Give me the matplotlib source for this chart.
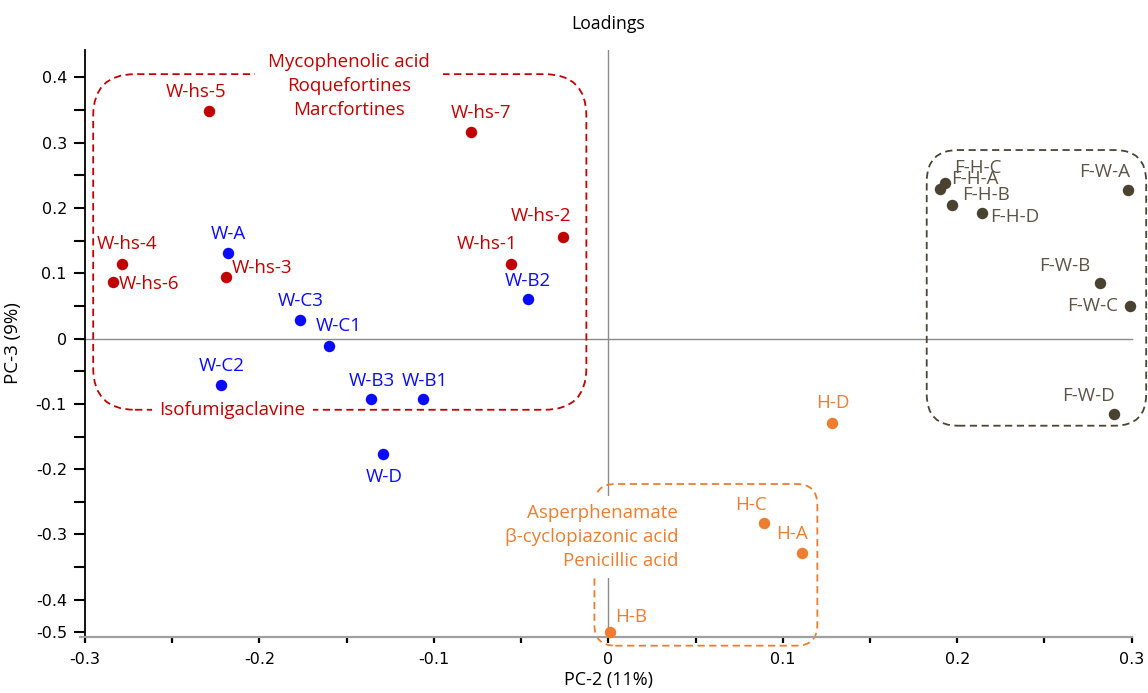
import matplotlib.pyplot as plt
from matplotlib.patches import FancyBboxPatch

# PC-2 / PC-3 loadings
red_names = ["W-hs-5", "W-hs-7", "W-hs-2", "W-hs-1", "W-hs-4", "W-hs-6", "W-hs-3"]
red_x = [-0.229, -0.079, -0.026, -0.056, -0.279, -0.284, -0.219]
red_y = [0.349, 0.316, 0.156, 0.114, 0.114, 0.087, 0.094]

blue_names = ["W-A", "W-C3", "W-C1", "W-C2", "W-B3", "W-B1", "W-B2", "W-D"]
blue_x = [-0.218, -0.177, -0.160, -0.222, -0.136, -0.106, -0.046, -0.129]
blue_y = [0.131, 0.029, -0.011, -0.071, -0.093, -0.093, 0.061, -0.177]

food_names = ["F-H-C", "F-H-A", "F-H-B", "F-H-D", "F-W-A", "F-W-B", "F-W-C", "F-W-D"]
food_x = [0.193, 0.190, 0.197, 0.214, 0.298, 0.282, 0.299, 0.290]
food_y = [0.239, 0.229, 0.205, 0.193, 0.228, 0.085, 0.050, -0.116]

orange_names = ["H-D", "H-C", "H-A", "H-B"]
orange_x = [0.128, 0.089, 0.111, 0.001]
orange_y = [-0.129, -0.283, -0.328, -0.450]

red_compounds = "Mycophenolic acid\nRoquefortines\nMarcfortines"
red_compound_low = "Isofumigaclavine"
orange_compounds = "Asperphenamate\nβ-cyclopiazonic acid\nPenicillic acid"

x_ticks = [-0.3, -0.2, -0.1, 0, 0.1, 0.2, 0.3]
x_labels = ["-0.3", "-0.2", "-0.1", "0", "0.1", "0.2", "0.3"]
y_ticks = [0.4, 0.3, 0.2, 0.1, 0, -0.1, -0.2, -0.3, -0.4, -0.45]
y_labels = ["0.4", "0.3", "0.2", "0.1", "0", "-0.1", "-0.2", "-0.3", "-0.4", "-0.5"]

# label offsets in pixels (layout only)
red_off = [(-13, 19), (10, 19), (-22, 21), (-24, 20), (5, 20), (36, -2), (36, 9)]
blue_off = [(0, 19), (1, 19), (9, 20), (1, 19), (1, 18), (1, 18), (0, 18), (1, -23)]
food_off = [(33, 15), (35, 10), (34, 10), (33, -4), (-24, 18), (-36, 17), (-37, 0), (-26, 18)]
orange_off = [(1, 20), (-13, 18), (-10, 19), (21, 15)]

RED = "#c00000"
BLUE = "#0a0aff"
OLIVE = "#4a4230"
OLIVE_TXT = "#5c5444"
ORANGE = "#ed7d31"
FONT = "Open Sans"
FS = 13.5

fig = plt.figure(figsize=(11.48, 6.93), dpi=100)
ax = fig.add_axes([85 / 1148, 1 - 637 / 693, 1046.7 / 1148, 587 / 693])
ax.set_xlim(-0.3, 0.3)
ax.set_ylim(-0.457, 0.442)

# aspect of one pixel in y data units vs x data units, for round corners
asp = (0.899 / 587) / (0.6 / 1046.7)

ax.axhline(0, xmin=-0.005, xmax=1, color="#8a8a8a", lw=1, zorder=1, clip_on=False)
ax.axvline(0, color="#8a8a8a", lw=1, zorder=1)

for spine in ["top", "right"]:
    ax.spines[spine].set_visible(False)
ax.spines["left"].set_color("black")
ax.spines["left"].set_linewidth(1.3)
ax.spines["bottom"].set_color("#a0a0a0")
ax.spines["bottom"].set_linewidth(1.6)
ax.spines["bottom"].set_bounds(-0.303, 0.3)

ax.set_xticks(x_ticks)
ax.set_xticklabels(x_labels)
ax.set_xticks([-0.25, -0.15, -0.05, 0.05, 0.15, 0.25], minor=True)
ax.set_yticks(y_ticks)
ax.set_yticklabels(y_labels)
ax.set_yticks([0.35, 0.25, 0.15, 0.05, -0.05, -0.15, -0.25, -0.35], minor=True)
ax.tick_params(axis="x", which="both", direction="out", length=4, width=1.6, pad=7,
               labelsize=11.5, colors="black")
ax.tick_params(axis="y", which="both", direction="out", length=8, width=1.5, pad=5,
               labelsize=11.5)

ax.set_title("Loadings", fontfamily=FONT, fontsize=12.7, pad=15)
ax.set_xlabel("PC-2 (11%)", fontfamily=FONT, fontsize=13, labelpad=3)
ax.set_ylabel("PC-3 (9%)", fontfamily=FONT, fontsize=13.5, labelpad=10)

# dashed group outlines
boxes = [
    ((-0.2953, -0.109), 0.2827, 0.514, 0.024, RED),
    ((0.1825, -0.1334), 0.1258, 0.4222, 0.018, "#4a4535"),
    ((-0.008, -0.4703), 0.1278, 0.2476, 0.012, ORANGE),
]
for (x0, y0), w, h, r, c in boxes:
    ax.add_patch(FancyBboxPatch((x0, y0), w, h,
                                boxstyle=f"round,pad=0,rounding_size={r}",
                                mutation_aspect=asp, fill=False, ec=c, lw=1.3,
                                ls=(0, (4, 2.5)), zorder=2, clip_on=False))

ax.text(-0.1485, 0.3868, red_compounds, ha="center", va="center", color=RED,
        fontfamily=FONT, fontsize=FS, linespacing=1.4, zorder=3,
        bbox=dict(boxstyle="square,pad=0.7", fc="white", ec="none"))
ax.text(-0.2156, -0.1093, red_compound_low, ha="center", va="center", color=RED,
        fontfamily=FONT, fontsize=FS, zorder=3,
        bbox=dict(boxstyle="square,pad=0.4", fc="white", ec="none"))
ax.text(0.040, -0.304, orange_compounds, ha="right", va="center", color=ORANGE,
        multialignment="right", fontfamily=FONT, fontsize=FS, linespacing=1.4,
        zorder=3, bbox=dict(boxstyle="square,pad=0.45", fc="white", ec="none"))

groups = [
    (red_names, red_x, red_y, red_off, RED, RED),
    (blue_names, blue_x, blue_y, blue_off, BLUE, BLUE),
    (food_names, food_x, food_y, food_off, OLIVE, OLIVE_TXT),
    (orange_names, orange_x, orange_y, orange_off, ORANGE, ORANGE),
]
for names, xs, ys, offs, dot_c, txt_c in groups:
    ax.scatter(xs, ys, s=68, color=dot_c, zorder=4, clip_on=False, linewidths=0)
    for name, x, y, (dx, dy) in zip(names, xs, ys, offs):
        ax.annotate(name, (x, y), xytext=(dx, dy), textcoords="offset pixels",
                    ha="center", va="center", color=txt_c, fontfamily=FONT,
                    fontsize=FS, zorder=5)

fig.savefig("out.png", dpi=100)
